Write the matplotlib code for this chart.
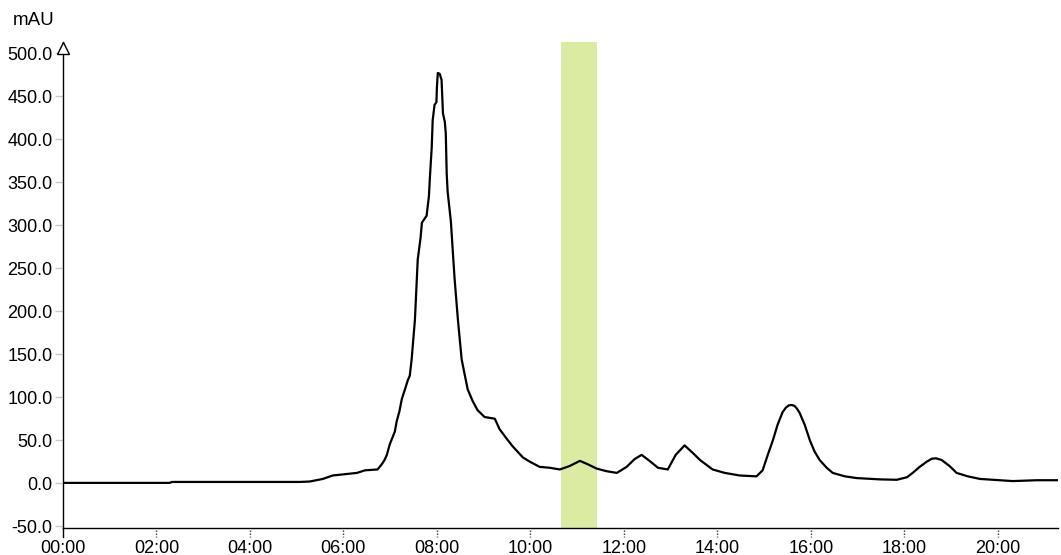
import matplotlib
matplotlib.use("Agg")
import matplotlib.pyplot as plt
import matplotlib.transforms as mtrans

# ---- data (time in minutes, absorbance in mAU) ----
time_min = [0.00, 2.28, 2.33, 5.07, 5.28, 5.56, 5.77, 6.29, 6.46, 6.73,
            6.82, 6.88, 6.93, 6.99, 7.10, 7.14, 7.20, 7.25, 7.31, 7.38,
            7.42, 7.46, 7.53, 7.59, 7.65, 7.68, 7.78, 7.83, 7.85, 7.89,
            7.91, 7.95, 7.99, 8.00, 8.02, 8.06, 8.10, 8.13, 8.17, 8.19,
            8.21, 8.23, 8.30, 8.34, 8.38, 8.45, 8.53, 8.60, 8.66, 8.77,
            8.87, 9.02, 9.13, 9.24, 9.34, 9.49, 9.62, 9.84, 9.99, 10.20,
            10.41, 10.63, 10.84, 11.06, 11.23, 11.42, 11.63, 11.85, 12.06, 12.23,
            12.38, 12.55, 12.73, 12.94, 13.11, 13.30, 13.48, 13.63, 13.90, 14.16,
            14.48, 14.84, 14.97, 15.08, 15.19, 15.29, 15.40, 15.47, 15.53, 15.59,
            15.65, 15.70, 15.76, 15.87, 15.98, 16.08, 16.19, 16.34, 16.47, 16.73,
            16.98, 17.47, 17.84, 18.06, 18.18, 18.33, 18.48, 18.59, 18.68, 18.80,
            18.97, 19.12, 19.36, 19.62, 20.04, 20.32, 20.84, 21.29]
mau = [0.4, 0.4, 1.5, 1.5, 2.0, 5.0, 9.0, 12.0, 15.0, 16.0,
       22.0, 27.0, 33.0, 45.0, 60.0, 72.0, 84.0, 98.0, 108.0, 120.0,
       125.0, 144.0, 190.0, 260.0, 285.0, 303.0, 311.0, 334.0, 355.0, 391.0,
       422.0, 440.0, 443.0, 460.0, 477.0, 476.0, 469.0, 430.0, 420.0, 407.0,
       360.0, 339.0, 304.0, 270.0, 237.0, 190.0, 144.0, 125.0, 109.0, 95.0,
       85.0, 77.0, 76.0, 75.0, 63.0, 52.0, 43.0, 30.0, 25.0, 19.0,
       18.0, 16.0, 20.0, 26.0, 22.0, 17.0, 14.0, 12.0, 19.0, 28.0,
       33.0, 26.0, 18.0, 16.0, 33.0, 44.0, 35.0, 27.0, 16.0, 12.0,
       9.0, 8.0, 15.0, 33.0, 50.0, 68.0, 83.0, 88.0, 90.5, 91.0,
       90.0, 87.0, 82.0, 68.0, 50.0, 37.0, 27.0, 18.0, 12.0, 8.0,
       6.0, 4.5, 4.0, 7.0, 12.0, 19.0, 25.0, 28.5, 29.0, 27.0,
       20.0, 12.0, 8.0, 5.0, 3.5, 2.5, 3.5, 3.5]

fraction_start = 10.65
fraction_end = 11.435

y_ticks = [-50, 0, 50, 100, 150, 200, 250, 300, 350, 400, 450, 500]
x_ticks = [0, 2, 4, 6, 8, 10, 12, 14, 16, 18, 20]
x_tick_labels = ["00:00", "02:00", "04:00", "06:00", "08:00", "10:00",
                 "12:00", "14:00", "16:00", "18:00", "20:00"]
y_label = "mAU"

plt.rcParams['font.family'] = ['Liberation Sans', 'DejaVu Sans']

fig = plt.figure(figsize=(10.61, 5.55), dpi=100)
ax = fig.add_axes([63 / 1061, 27.3 / 555, (1058 - 63) / 1061, (527.7 - 42) / 555])

ax.set_xlim(0, 21.29)
ax.set_ylim(-51.7, 513)

ax.axvspan(fraction_start, fraction_end, color="#dcebA2", zorder=1, lw=0)
ax.plot(time_min, mau, color="black", lw=1.6, zorder=3, solid_joinstyle="round")

for s in ["top", "right"]:
    ax.spines[s].set_visible(False)
ax.spines["left"].set_linewidth(1.0)
ax.spines["bottom"].set_linewidth(1.0)

ax.set_yticks(y_ticks)
ax.set_yticklabels([f"{v:.1f}" for v in y_ticks])
ax.tick_params(axis="y", length=6, width=1, color="#c8c8c8", pad=1.5,
               labelsize=13, labelcolor="black")

ax.set_xticks(x_ticks)
ax.set_xticklabels(x_tick_labels)
ax.tick_params(axis="x", length=0, pad=8.5, labelsize=13, labelcolor="black")

# dotted tick marks below the bottom axis
trans = mtrans.blended_transform_factory(ax.transData, ax.transAxes)
for t in x_ticks[1:]:
    ax.plot([t, t], [-0.005, -0.02], transform=trans, color="#333333",
            lw=1, linestyle=(0, (1, 1.2)), clip_on=False)
# solid extension of y axis below bottom spine
ax.plot([0, 0], [0, -0.02], transform=trans, color="black", lw=1, clip_on=False)

# open arrow head on top of y axis
ax.plot([0], [0.988], marker="^", markersize=9, mfc="white", mec="black",
        mew=1, transform=trans, clip_on=False, zorder=5)

fig.text(13 / 1061, 1 - 20.5 / 555, y_label, fontsize=13.5, ha="left", va="center")

fig.savefig("out.png", dpi=100)
